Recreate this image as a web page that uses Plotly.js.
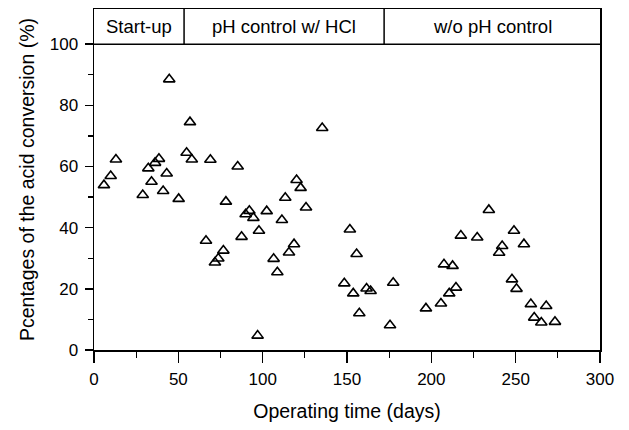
<!DOCTYPE html>
<html>
<head>
<meta charset="utf-8">
<script src="https://cdn.plot.ly/plotly-3.0.1.min.js"></script>
<style>html,body{margin:0;padding:0;background:#fff;}#chart{width:629px;height:430px;}</style>
</head>
<body>
<div id="chart"></div>
<script>
// Operating time (days)
const days = [5.9, 9.9, 13.0, 28.9, 32.2, 34.1, 36.2, 38.5, 41.0, 43.1, 44.6, 50.2,
  54.9, 56.9, 58.0, 66.4, 69.0, 71.7, 73.7, 76.7, 78.2, 85.2, 87.5, 89.9, 92.1, 94.5,
  97.0, 97.8, 102.4, 106.5, 108.7, 111.4, 113.4, 115.6, 118.6, 120.1, 122.5, 125.7,
  135.3, 148.4, 151.7, 153.7, 155.7, 157.3, 161.6, 164.0, 175.5, 177.4, 196.8, 205.7,
  207.5, 210.6, 212.6, 214.6, 217.5, 227.2, 234.1, 240.2, 242.0, 247.8, 249.0, 250.5,
  254.9, 259.0, 261.0, 265.2, 268.1, 273.3];
// Percentages of the acid conversion (%)
const conversion = [53.9, 56.9, 62.3, 50.7, 59.4, 55.0, 61.2, 62.5, 52.0, 57.7, 88.5, 49.4,
  64.5, 74.5, 62.3, 35.7, 62.2, 28.6, 29.9, 32.5, 48.5, 60.0, 37.0, 44.4, 45.5, 43.2,
  4.7, 39.0, 45.4, 29.8, 25.4, 42.5, 49.8, 31.9, 34.6, 55.6, 53.0, 46.6,
  72.6, 21.8, 39.4, 18.5, 31.4, 12.0, 20.1, 19.3, 8.1, 22.0, 13.6, 15.2,
  28.0, 18.5, 27.5, 20.4, 37.4, 36.8, 45.8, 31.8, 34.0, 23.1, 39.0, 20.0,
  34.6, 15.0, 10.6, 9.0, 14.4, 9.2];

// Operating phases (day boundaries) and their labels
const phaseBounds = [0, 53.4, 172, 300];
const phaseLabels = ["Start-up", "pH control w/ HCl", "w/o pH control"];

const xTickVals = [0, 50, 100, 150, 200, 250, 300];
const yTickVals = [0, 20, 40, 60, 80, 100];
const yMinorVals = [10, 30, 50, 70, 90];
const xRange = [0, 300];
const yRange = [0, 111.5];
const headerBottom = 100;

const font = "Liberation Sans, Arial, Helvetica, sans-serif";

const shapes = [{
  type: "line", xref: "x", yref: "y", x0: xRange[0], x1: xRange[1],
  y0: headerBottom, y1: headerBottom, line: {color: "#000", width: 1.5}
}];
for (let i = 1; i < phaseBounds.length - 1; i++) {
  shapes.push({
    type: "line", xref: "x", yref: "y", x0: phaseBounds[i], x1: phaseBounds[i],
    y0: headerBottom, y1: yRange[1], line: {color: "#000", width: 1.5}
  });
}
const annotations = phaseLabels.map((t, i) => ({
  text: t, xref: "x", yref: "y",
  x: (phaseBounds[i] + phaseBounds[i + 1]) / 2,
  y: (headerBottom + yRange[1]) / 2,
  showarrow: false, font: {family: font, size: 18.5, color: "#000"}
}));

const trace = {
  x: days, y: conversion, type: "scatter", mode: "markers",
  marker: {symbol: "triangle-up-open", size: 10, color: "#000", line: {width: 1.6, color: "#000"}},
  hoverinfo: "x+y"
};

const layout = {
  width: 629, height: 430,
  margin: {l: 94, r: 29, t: 9, b: 80},
  paper_bgcolor: "#fff", plot_bgcolor: "#fff",
  showlegend: false,
  font: {family: font, color: "#000"},
  xaxis: {
    range: xRange, tickmode: "array", tickvals: xTickVals,
    ticks: "outside", ticklen: 11, tickwidth: 1.5, tickcolor: "#000",
    minor: {dtick: 25, tick0: 0, ticks: "outside", ticklen: 6, tickwidth: 1.2, tickcolor: "#000"},
    showline: true, linecolor: "#000", linewidth: 1.5, mirror: true,
    showgrid: false, zeroline: false,
    tickfont: {family: font, size: 17, color: "#000"},
    ticklabelstandoff: 2,
    title: {text: "Operating time (days)", font: {family: font, size: 19.5, color: "#000"}, standoff: 16}
  },
  yaxis: {
    range: yRange, tickmode: "array", tickvals: yTickVals,
    ticks: "outside", ticklen: 8, tickwidth: 1.5, tickcolor: "#000",
    minor: {tickmode: "array", tickvals: yMinorVals, ticks: "outside", ticklen: 5, tickwidth: 1.2, tickcolor: "#000"},
    showline: true, linecolor: "#000", linewidth: 1.5, mirror: true,
    showgrid: false, zeroline: false,
    tickfont: {family: font, size: 17, color: "#000"},
    ticklabelstandoff: 3,
    title: {text: "Pcentages of the acid conversion (%)", font: {family: font, size: 19.5, color: "#000"}, standoff: 10}
  },
  shapes: shapes,
  annotations: annotations
};

Plotly.newPlot("chart", [trace], layout, {displayModeBar: false, staticPlot: true});
</script>
</body>
</html>
